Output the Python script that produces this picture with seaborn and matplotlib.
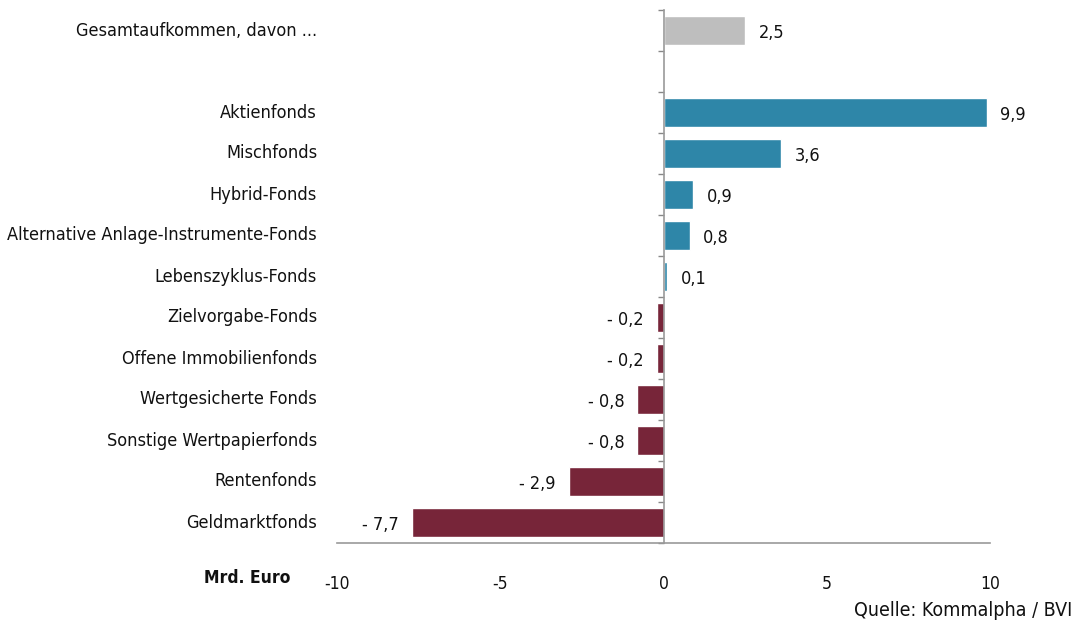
import matplotlib
matplotlib.use("Agg")
import matplotlib.pyplot as plt
import matplotlib.transforms as mtransforms
import seaborn as sns
import pandas as pd
import numpy as np

categories = ["Gesamtaufkommen, davon ...", "Aktienfonds", "Mischfonds", "Hybrid-Fonds",
              "Alternative Anlage-Instrumente-Fonds", "Lebenszyklus-Fonds", "Zielvorgabe-Fonds",
              "Offene Immobilienfonds", "Wertgesicherte Fonds", "Sonstige Wertpapierfonds",
              "Rentenfonds", "Geldmarktfonds"]
values = [2.5, 9.9, 3.6, 0.9, 0.8, 0.1, -0.2, -0.2, -0.8, -0.8, -2.9, -7.7]
groups = ["total", "pos", "pos", "pos", "pos", "pos", "neg", "neg", "neg", "neg", "neg", "neg"]
xticks = [-10, -5, 0, 5, 10]

FONT = ["DejaVu Sans"]
sns.set_theme(style="white")
plt.rcParams["font.family"] = FONT
plt.rcParams["font.stretch"] = "condensed"

order = [categories[0], " "] + categories[1:]
df = pd.DataFrame({"cat": categories, "val": values, "grp": groups})
palette = {"total": "#BEBEBE", "pos": "#2E86A8", "neg": "#772539"}

fig = plt.figure(figsize=(10.77, 6.25), dpi=100)
ax = fig.add_axes([337 / 1077, 1 - 543 / 625, (990 - 337) / 1077, (543 - 10) / 625])
sns.barplot(data=df, x="val", y="cat", order=order, hue="grp", palette=palette,
            dodge=False, width=0.72, legend=False, ax=ax, orient="h", saturation=1)

ax.set_xlim(-10, 10)
ax.set_ylim(len(order) - 0.5, -0.5)
ax.set_xticks(xticks)
ax.set_xticklabels([str(t) for t in xticks], fontsize=12.5, fontstretch="condensed")
ax.tick_params(axis="x", length=5, width=1, color="#888888", pad=18, labelcolor="#111111")
ax.set_xlabel("")
ax.set_ylabel("")

for s in ["top", "right"]:
    ax.spines[s].set_visible(False)
ax.spines["left"].set_position(("data", 0))
for s in ["left", "bottom"]:
    ax.spines[s].set_color("#999999")
    ax.spines[s].set_linewidth(1.2)

ax.set_yticks(np.arange(-0.5, len(order), 1.0))
ax.set_yticklabels([])
ax.tick_params(axis="y", length=4, width=1, color="#888888", left=True)

trans = mtransforms.blended_transform_factory(ax.transAxes, ax.transData)
off = 20 / 653
for i, name in enumerate(order):
    if name.strip():
        ax.text(-off, i, name, transform=trans, ha="right", va="center", fontsize=13,
                fontstretch="condensed", color="#111111")

for name, v in zip(categories, values):
    y = order.index(name)
    txt = f"{abs(v):.1f}".replace(".", ",")
    if v >= 0:
        ax.text(v + 0.42, y + 0.05, txt, ha="left", va="center", fontsize=13,
                fontstretch="condensed", color="#111111")
    else:
        ax.text(v - 0.4, y + 0.05, "- " + txt, ha="right", va="center", fontsize=13,
                fontstretch="condensed", color="#111111")

fig.text(290 / 1077, 1 - 578 / 625, "Mrd. Euro", ha="right", va="center", fontsize=12.5,
         fontweight="bold", fontstretch="condensed", color="#111111")
fig.text(1072 / 1077, 1 - 610 / 625, "Quelle: Kommalpha / BVI", ha="right", va="center",
         fontsize=14, fontstretch="condensed", color="#111111")

fig.savefig("out.png", dpi=100)
